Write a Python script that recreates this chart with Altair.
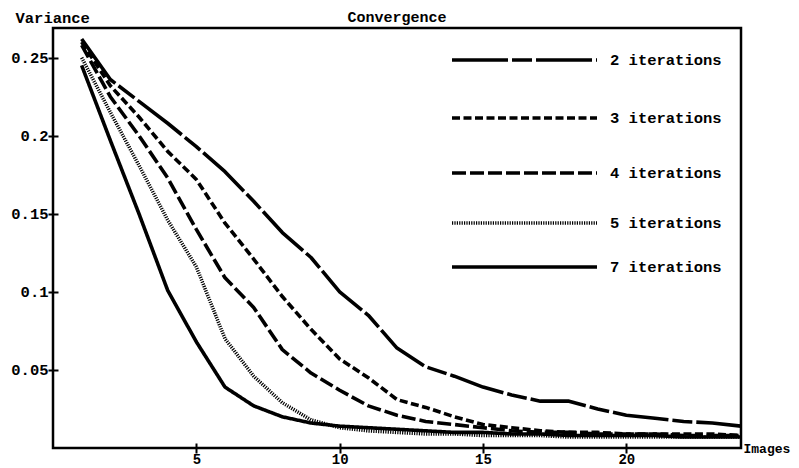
import altair as alt
import pandas as pd

# ---- data ----
images = list(range(1, 25))
it2 = [0.262, 0.236, 0.222, 0.208, 0.193, 0.177, 0.158, 0.138, 0.122, 0.100, 0.085, 0.064,
       0.052, 0.046, 0.039, 0.034, 0.030, 0.030, 0.025, 0.021, 0.019, 0.017, 0.016, 0.014]
it3 = [0.260, 0.232, 0.212, 0.190, 0.172, 0.144, 0.121, 0.097, 0.076, 0.057, 0.045, 0.031,
       0.026, 0.020, 0.015, 0.013, 0.011, 0.010, 0.010, 0.009, 0.009, 0.009, 0.009, 0.008]
it4 = [0.258, 0.225, 0.200, 0.173, 0.140, 0.109, 0.090, 0.063, 0.048, 0.037, 0.027, 0.021,
       0.017, 0.015, 0.013, 0.011, 0.010, 0.010, 0.009, 0.009, 0.009, 0.008, 0.008, 0.008]
it5 = [0.250, 0.215, 0.181, 0.146, 0.116, 0.070, 0.046, 0.029, 0.018, 0.013, 0.011, 0.010,
       0.009, 0.009, 0.008, 0.008, 0.008, 0.007, 0.007, 0.007, 0.007, 0.007, 0.007, 0.007]
it7 = [0.245, 0.197, 0.150, 0.101, 0.068, 0.039, 0.027, 0.020, 0.016, 0.014, 0.013, 0.012,
       0.011, 0.010, 0.010, 0.009, 0.009, 0.008, 0.008, 0.008, 0.008, 0.007, 0.007, 0.007]
series_names = ["2 iterations", "3 iterations", "4 iterations", "5 iterations", "7 iterations"]
y_ticks = [0.05, 0.1, 0.15, 0.2, 0.25]
x_ticks = [5, 10, 15, 20]

# ---- styles / layout ----
FONT = "Liberation Mono"
FS = 15.5
W, H = 688, 420
YMAX = 0.269
dashes = [[56, 4, 20, 4], [8, 3.5], [14, 4], [1.2, 1.2], [1, 0]]
widths = [3.6, 3.6, 3.6, 1.6, 3.4]
legend_rows_px = [32, 90, 145, 195, 239]  # px from plot top

rows = []
for name, vals in zip(series_names, [it2, it3, it4, it5, it7]):
    for x, v in zip(images, vals):
        rows.append({"series": name, "image": x, "variance": v})
df = pd.DataFrame(rows)

leg = pd.DataFrame({
    "series": series_names,
    "ly": [YMAX * (1 - p / H) for p in legend_rows_px],
})

dash_scale = alt.Scale(domain=series_names, range=dashes)
width_scale = alt.Scale(domain=series_names, range=widths)
xs = alt.Scale(domain=[0, 24], nice=False, zero=False)
ys = alt.Scale(domain=[0, YMAX], nice=False)

lines = alt.Chart(df).mark_line(color="black", strokeJoin="round").encode(
    x=alt.X("image:Q", scale=xs, axis=alt.Axis(
        values=x_ticks, format="d", title="Images", titleX=690, titleY=5,
        titleFontSize=13, labelFontSize=14, labelPadding=10, labelBaseline="alphabetic",
        titleAlign="left", titleBaseline="middle", titleAnchor="start")),
    y=alt.Y("variance:Q", scale=ys, axis=alt.Axis(
        values=y_ticks, format="~g", title="Variance", titleAngle=0,
        titleX=-43, titleY=-6, titleAlign="left", titleBaseline="alphabetic")),
    strokeDash=alt.StrokeDash("series:N", scale=dash_scale, legend=None),
    strokeWidth=alt.StrokeWidth("series:N", scale=width_scale, legend=None),
    detail="series:N",
)

leg_lines = alt.Chart(leg).mark_rule(color="black").encode(
    x=alt.value(399), x2=alt.value(544),
    y=alt.Y("ly:Q", scale=ys),
    strokeDash=alt.StrokeDash("series:N", scale=dash_scale, legend=None),
    strokeWidth=alt.StrokeWidth("series:N", scale=width_scale, legend=None),
)

leg_text = alt.Chart(leg).mark_text(
    align="left", baseline="middle", font=FONT, fontSize=FS, fontWeight="bold", color="black"
).encode(
    x=alt.value(557),
    y=alt.Y("ly:Q", scale=ys),
    text="series:N",
)

chart = alt.layer(lines, leg_lines, leg_text).properties(
    width=W, height=H,
    autosize=alt.AutoSizeParams(type="none"),
    padding={"left": 45, "top": 20, "right": 50, "bottom": 20},
    background="white",
    title=alt.TitleParams("Convergence", font=FONT, fontSize=15, fontWeight="bold",
                          anchor="middle", frame="group", baseline="alphabetic",
                          offset=-27, color="black"),
).configure_view(
    stroke="black", strokeWidth=2.5
).configure_axis(
    grid=False, domain=False, offset=-5, tickSize=10, tickWidth=2, tickColor="black",
    labelFont=FONT, labelFontSize=FS, labelFontWeight="bold", labelColor="black",
    labelPadding=0, titleFont=FONT, titleFontSize=FS, titleFontWeight="bold",
    titleColor="black",
)

chart.save("out.html", embed_options={"renderer": "svg", "actions": False})
